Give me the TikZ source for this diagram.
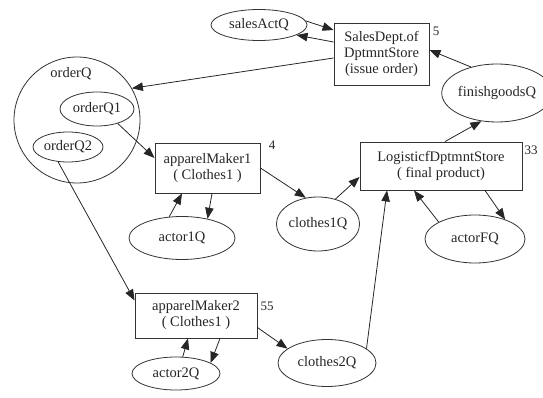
\documentclass[tikz,border=0pt]{standalone}
\usepackage{fontspec}
\setmainfont{Liberation Serif}
\usetikzlibrary{shapes.geometric,arrows.meta}
\begin{document}
\begin{tikzpicture}[x=1pt,y=-1pt,
  every node/.style={font=\fontsize{14.5}{16}\selectfont, text=black!85, inner sep=0pt, align=center},
  q/.style={draw=black!80, line width=0.8pt, ellipse},
  box/.style={draw=black!80, line width=0.9pt, rectangle},
  num/.style={font=\fontsize{13}{14}\selectfont},
  arr/.style={draw=black!85, line width=0.8pt, -{Triangle[length=11pt,width=8.5pt]}}]
\useasboundingbox (0,0) rectangle (543,398);
% nodes
\node[q, minimum width=96pt, minimum height=31pt] (salesActQ) at (259,25) {salesActQ};
\node[box, minimum width=95pt, minimum height=62pt] (sales) at (381.5,54) {SalesDept.of\\DptmntStore\\(issue order)};
\node[num] (n5) at (436,31) {5};
\node[draw=black!80, line width=0.8pt, circle, minimum size=126pt] (orderQ) at (77,120) {};
\node (orderQlabel) at (71,74) {orderQ};
\node[q, minimum width=74pt, minimum height=34pt] (orderQ1) at (97,109) {orderQ1};
\node[q, minimum width=70pt, minimum height=30pt] (orderQ2) at (68,147) {orderQ2};
\node[box, minimum width=105pt, minimum height=50pt] (am1) at (207.5,168) {apparelMaker1\\( Clothes1 )};
\node[num] (n4) at (272,145) {4};
\node[q, minimum width=106pt, minimum height=43pt] (actor1Q) at (182,238) {actor1Q};
\node[q, minimum width=82pt, minimum height=54pt] (clothes1Q) at (318,224) {clothes1Q};
\node[box, minimum width=162pt, minimum height=48pt] (log) at (441,166) {LogisticfDptmntStore\\( final product)};
\node[num] (n33) at (531,150) {33};
\node[q, minimum width=94pt, minimum height=58pt] (finish) at (497,93) {finishgoodsQ};
\node[q, minimum width=100pt, minimum height=48pt] (actorFQ) at (475,239) {actorFQ};
\node[box, minimum width=122pt, minimum height=45pt] (am2) at (196,315.5) {apparelMaker2\\( Clothes1 )};
\node[num] (n55) at (267,306) {55};
\node[q, minimum width=88pt, minimum height=33pt] (actor2Q) at (176,373.5) {actor2Q};
\node[q, minimum width=98pt, minimum height=47pt] (clothes2Q) at (327,363) {clothes2Q};
% edges
\draw[arr] (salesActQ.5) -- ([yshift=24pt]sales.west);
\draw[arr] ([yshift=12pt]sales.west) -- (salesActQ.-15);
\draw[arr] ([yshift=-4pt]sales.west) -- (orderQ.30);
\draw[arr] (finish.135) -- ([yshift=4pt]sales.east);
\draw[arr] ([xshift=4pt]log.north) -- (finish.-119);
\draw[arr] (clothes1Q.55) -- ([yshift=-11pt]log.west);
\draw[arr] (am1.east) -- (clothes1Q.115);
\draw[arr] (actorFQ.155) -- ([xshift=-27pt]log.south);
\draw[arr] ([xshift=44pt]log.south) -- (actorFQ.33);
\draw[arr] (clothes2Q.20) -- ([xshift=-54pt]log.south);
\draw[arr] ([yshift=-12pt]am2.east) -- (clothes2Q.160);
\draw[arr] (orderQ1.-35) -- ([yshift=10pt]am1.west);
\draw[arr] (orderQ2.-124) -- ([yshift=15pt]am2.west);
\draw[arr] (actor2Q.68) -- ([xshift=-8pt]am2.south);
\draw[arr] ([xshift=24pt]am2.south) -- (actor2Q.17);
\draw[arr] (actor1Q.121) -- ([xshift=-25.5pt]am1.south);
\draw[arr] ([xshift=4.5pt]am1.south) -- (actor1Q.37);
\end{tikzpicture}
\end{document}
